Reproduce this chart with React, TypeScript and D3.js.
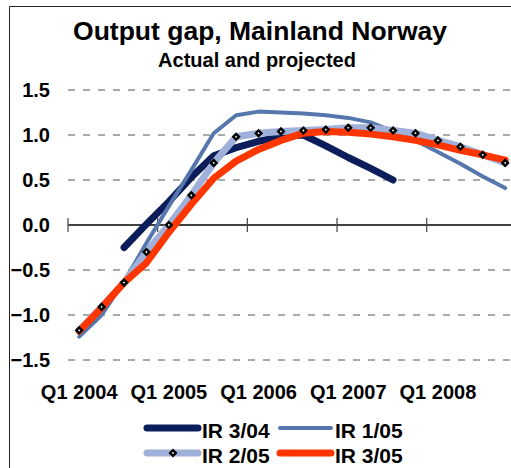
import React from "react"
import * as d3 from "d3"

const quarters = [
  "2004Q1", "2004Q2", "2004Q3", "2004Q4",
  "2005Q1", "2005Q2", "2005Q3", "2005Q4",
  "2006Q1", "2006Q2", "2006Q3", "2006Q4",
  "2007Q1", "2007Q2", "2007Q3", "2007Q4",
  "2008Q1", "2008Q2", "2008Q3", "2008Q4",
]
const tickLabels = ["Q1 2004", "Q1 2005", "Q1 2006", "Q1 2007", "Q1 2008"]
const yTicks = [-1.5, -1.0, -0.5, 0.0, 0.5, 1.0, 1.5]

const ir304 = [null, null, -0.25, 0.01, 0.26, 0.53, 0.77, 0.86, 0.93, 0.98, 1.0, 0.88, 0.75, 0.63, 0.5, null, null, null, null, null]
const ir105 = [-1.24, -1.0, -0.63, -0.2, 0.21, 0.61, 1.02, 1.22, 1.26, 1.25, 1.24, 1.22, 1.19, 1.14, 1.04, 0.94, 0.81, 0.68, 0.54, 0.41]
const ir205 = [-1.17, -0.91, -0.64, -0.3, 0.0, 0.33, 0.69, 0.98, 1.02, 1.04, 1.05, 1.06, 1.08, 1.08, 1.05, 1.02, 0.94, 0.87, 0.78, 0.69]
const ir305 = [-1.18, -0.92, -0.64, -0.42, -0.08, 0.23, 0.52, 0.71, 0.84, 0.94, 1.02, 1.04, 1.03, 1.01, 0.98, 0.94, 0.89, 0.83, 0.78, 0.72]

const series = [
  { name: "IR 3/04", values: ir304, color: "#0b1d5a", width: 7 },
  { name: "IR 1/05", values: ir105, color: "#5677ae", width: 4 },
  { name: "IR 2/05", values: ir205, color: "#9fb0da", width: 7 },
  { name: "IR 3/05", values: ir305, color: "#ff3600", width: 7 },
]

const font = "'Liberation Sans', Arial, sans-serif"

export default function App() {
  const W = 511
  const H = 468
  const left = 68
  const step = 22.42

  const x = d3
    .scaleBand()
    .domain(quarters)
    .range([left, left + step * quarters.length])
  const y = d3.scaleLinear().domain([-1.5, 1.5]).range([360, 90])

  const cx = (q) => x(q) + x.bandwidth() / 2

  const line = d3
    .line()
    .defined((d) => d.v !== null)
    .x((d) => cx(d.q))
    .y((d) => y(d.v))

  // small square turned 45 degrees, like the spreadsheet's diamond marker
  const marker = d3.symbol().type(d3.symbolSquare).size(16)()

  const yearTicks = quarters.filter((q) => q.endsWith("Q1"))

  const legendItems = [
    { s: series[0], lx: 147, ly: 428 },
    { s: series[1], lx: 280, ly: 428 },
    { s: series[2], lx: 147, ly: 453 },
    { s: series[3], lx: 280, ly: 453 },
  ]

  return (
    <svg
      width={W}
      height={H}
      style={{ position: "absolute", left: 0, top: 0, background: "#fff" }}
      fontFamily={font}
    >
      <rect x={0} y={0} width={W} height={H} fill="#fff" />
      {/* chart frame, cut by the picture on the right and bottom */}
      <path d={`M9.5,${H + 5} V6.5 H${W + 5}`} fill="none" stroke="#222" strokeWidth={1} />

      <text x={260} y={40} textAnchor="middle" fontSize={26.5} fontWeight="bold" fill="#000">
        Output gap, Mainland Norway
      </text>
      <text x={257} y={67} textAnchor="middle" fontSize={20} fontWeight="bold" fill="#000">
        Actual and projected
      </text>

      {/* gridlines */}
      {yTicks
        .filter((t) => t !== 0)
        .map((t) => (
          <line
            key={t}
            x1={left}
            x2={left + step * quarters.length}
            y1={y(t)}
            y2={y(t)}
            stroke="#555"
            strokeWidth={1}
            strokeDasharray="7,8"
          />
        ))}

      {/* y labels */}
      {yTicks.map((t) => (
        <text
          key={t}
          x={50}
          y={y(t)}
          dy="0.36em"
          textAnchor="end"
          fontSize={20}
          fontWeight="bold"
          fill="#000"
        >
          {d3.format(".1f")(t)}
        </text>
      ))}

      {/* zero axis with crossing ticks */}
      <line x1={left} x2={left + step * quarters.length} y1={y(0)} y2={y(0)} stroke="#000" strokeWidth={1.3} />
      {yearTicks.map((q) => (
        <line key={q} x1={x(q)} x2={x(q)} y1={y(0) - 7} y2={y(0) + 7} stroke="#444" strokeWidth={1.2} />
      ))}

      {/* x labels */}
      {yearTicks.map((q, i) => (
        <text key={q} x={cx(q)} y={399} textAnchor="middle" fontSize={20} fontWeight="bold" fill="#000">
          {tickLabels[i]}
        </text>
      ))}

      {/* lines */}
      {series.map((s) => (
        <path
          key={s.name}
          d={line(s.values.map((v, i) => ({ q: quarters[i], v })))}
          fill="none"
          stroke={s.color}
          strokeWidth={s.width}
          strokeLinecap="round"
          strokeLinejoin="round"
        />
      ))}

      {/* markers for IR 2/05 */}
      {ir205.map((v, i) =>
        v === null ? null : (
          <path
            key={i}
            d={marker}
            transform={`translate(${cx(quarters[i])},${y(v)}) rotate(45)`}
            fill="#fff"
            stroke="#000"
            strokeWidth={2.4}
          />
        )
      )}

      {/* legend */}
      {legendItems.map(({ s, lx, ly }) => (
        <g key={s.name}>
          <line
            x1={lx}
            x2={lx + 51}
            y1={ly}
            y2={ly}
            stroke={s.color}
            strokeWidth={s.width}
            strokeLinecap="round"
          />
          {s.name === "IR 2/05" && (
            <path
              d={marker}
              transform={`translate(${lx + 26},${ly}) rotate(45)`}
              fill="#fff"
              stroke="#000"
              strokeWidth={2.4}
            />
          )}
          <text x={lx + 55} y={ly + 10} fontSize={21} fontWeight="bold" fill="#000">
            {s.name}
          </text>
        </g>
      ))}
    </svg>
  )
}
